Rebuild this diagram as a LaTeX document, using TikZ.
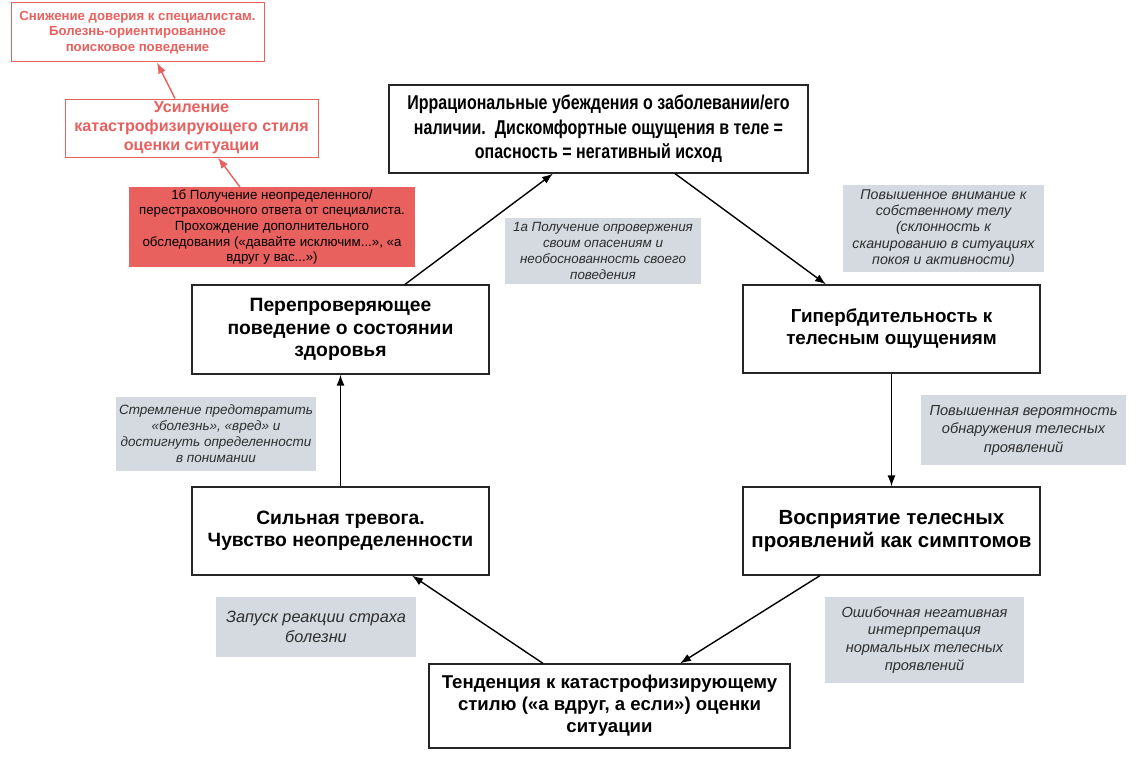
\documentclass[tikz,border=0pt]{standalone}
\usepackage{fontspec}
\setmainfont{Liberation Sans}
\newfontfamily\condfont[FakeStretch=0.80]{Liberation Sans}
\usetikzlibrary{arrows.meta}
\definecolor{redc}{HTML}{E8615F}
\definecolor{grayfill}{HTML}{D4DAE0}
\definecolor{labtext}{HTML}{2E2E2E}
\tikzset{
  mainbox/.style={draw=black!85, line width=1.2pt, fill=white, align=center, inner sep=2pt, font=\bfseries\fontsize{19.3}{22.5}\selectfont},
  lab/.style={fill=grayfill, align=center, inner sep=2pt, text=labtext, font=\itshape\fontsize{14}{16}\selectfont},
  redbox/.style={draw=redc, line width=1pt, fill=white, text=redc, align=center, inner sep=2pt},
  redfill/.style={fill=redc, text=black, align=center, inner sep=2pt, font=\fontsize{13.3}{15.7}\selectfont},
  arr/.style={line width=1.4pt, -{Latex[length=11pt,width=8pt]}},
  rarr/.style={draw=redc, line width=1.4pt, -{Latex[length=11pt,width=8pt]}}
}
\begin{document}
\begin{tikzpicture}[x=1pt,y=-1pt]
\useasboundingbox[fill=white] (0,0) rectangle (1138,768);

\node[mainbox, minimum width=419pt, minimum height=88pt, font=\condfont\bfseries\fontsize{20}{24.5}\selectfont] (top) at (598.5,129)
 {Иррациональные убеждения о заболевании/его\\наличии.\ \ Дискомфортные ощущения в теле =\\опасность = негативный исход};

\node[mainbox, minimum width=297pt, minimum height=89pt] (perep) at (340.5,329.5)
 {Перепроверяющее\\поведение о состоянии\\здоровья};
\node[mainbox, minimum width=297pt, minimum height=88pt, font=\bfseries\fontsize{18.8}{22}\selectfont] (giper) at (891.5,329)
 {Гипербдительность к\\телесным ощущениям};
\node[mainbox, minimum width=297pt, minimum height=88pt] (siln) at (340.5,531)
 {Сильная тревога.\\Чувство неопределенности};
\node[mainbox, minimum width=297pt, minimum height=88pt, font=\bfseries\fontsize{20.5}{23}\selectfont] (vospr) at (891.5,531)
 {Восприятие телесных\\проявлений как симптомов};
\node[mainbox, minimum width=361pt, minimum height=84pt, font=\bfseries\fontsize{18.6}{22}\selectfont] (tend) at (609.5,706)
 {Тенденция к катастрофизирующему\\стилю («а вдруг, а если») оценки\\ситуации};

\node[redbox, minimum width=253pt, minimum height=59pt, font=\bfseries\fontsize{13.2}{15.5}\selectfont] (red1) at (137.5,32.5)
 {Снижение доверия к специалистам.\\Болезнь-ориентированное\\поисковое поведение};
\node[redbox, minimum width=253pt, minimum height=58pt, font=\bfseries\fontsize{16.1}{19}\selectfont] (usil) at (191.5,128)
 {Усиление\\катастрофизирующего стиля\\оценки ситуации};
\node[redfill, minimum width=286pt, minimum height=76pt] (r1b) at (272,227)
 {1б Получение неопределенного/\\перестраховочного ответа от специалиста.\\Прохождение дополнительного\\обследования («давайте исключим...», «а\\вдруг у вас...»)};

\node[lab, minimum width=196pt, minimum height=66pt, font=\itshape\fontsize{13.4}{16}\selectfont] (l1a) at (603,251)
 {1а Получение опровержения\\своим опасениям и\\необоснованность своего\\поведения};
\node[lab, minimum width=201pt, minimum height=87pt, font=\itshape\fontsize{14.2}{16.2}\selectfont] (lpv) at (943.5,228.5)
 {Повышенное внимание к\\собственному телу\\(склонность к\\сканированию в ситуациях\\покоя и активности)};
\node[lab, minimum width=200pt, minimum height=74pt, font=\itshape\fontsize{13.5}{16}\selectfont] (lstr) at (216,434)
 {Стремление предотвратить\\«болезнь», «вред» и\\достигнуть определенности\\в понимании};
\node[lab, minimum width=205pt, minimum height=70pt, font=\itshape\fontsize{14.6}{18.5}\selectfont] (lver) at (1023.5,430)
 {Повышенная вероятность\\обнаружения телесных\\проявлений};
\node[lab, minimum width=200pt, minimum height=60pt, font=\itshape\fontsize{16.3}{19.5}\selectfont] (lzap) at (316,627)
 {Запуск реакции страха\\болезни};
\node[lab, minimum width=199pt, minimum height=86pt, font=\itshape\fontsize{14.6}{17.7}\selectfont] (losh) at (924.5,640)
 {Ошибочная негативная\\интерпретация\\нормальных телесных\\проявлений};

\draw[arr] ([xshift=64.5pt]perep.north) -- ([xshift=-45.5pt]top.south);
\draw[arr] ([xshift=76.5pt]top.south) -- ([xshift=-65.5pt]giper.north);
\draw[arr] (giper.south) -- (vospr.north);
\draw[arr] ([xshift=-71.5pt]vospr.south) -- ([xshift=70.5pt]tend.north);
\draw[arr] ([xshift=-66.5pt]tend.north) -- ([xshift=71.5pt]siln.south);
\draw[arr] (siln.north) -- (perep.south);
\draw[rarr] ([xshift=-32pt]r1b.north) -- ([xshift=26.5pt]usil.south);
\draw[rarr] ([xshift=-16.5pt]usil.north) -- ([xshift=19.5pt]red1.south);
\end{tikzpicture}
\end{document}
